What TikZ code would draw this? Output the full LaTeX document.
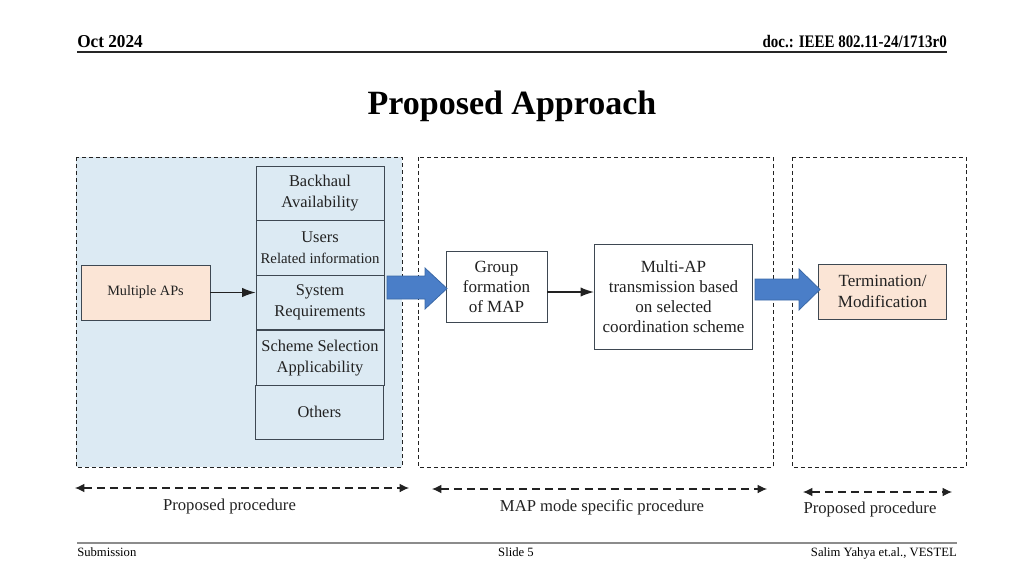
\documentclass[tikz,border=0pt]{standalone}
\usepackage{fontspec}
\setmainfont{Liberation Serif}
\newfontfamily\hdrfont[FakeStretch=0.85]{Liberation Serif}
\newfontfamily\datefont[FakeStretch=0.95]{Liberation Serif}
\usetikzlibrary{arrows.meta}

\definecolor{panelblue}{HTML}{DCEAF3}
\definecolor{peach}{HTML}{FBE5D6}
\definecolor{arrowblue}{HTML}{4A7EC8}
\definecolor{arrowedge}{HTML}{3A68A6}
\definecolor{boxedge}{HTML}{3E4852}
\definecolor{inkgrey}{HTML}{222222}

\def\pu{0.75pt}

\tikzset{
  panel/.style = {draw=inkgrey, line width=0.7pt, dash pattern=on 3pt off 2.2pt},
  colbox/.style = {draw=boxedge, fill=panelblue, line width=0.7pt, inner sep=0pt,
                   minimum width=128*\pu, align=center, text=inkgrey,
                   font=\fontsize{12.3}{15.5}\selectfont},
  procbox/.style = {draw=boxedge, fill=white, line width=0.7pt, inner sep=0pt,
                    align=center, text=inkgrey, font=\fontsize{12.8}{15.2}\selectfont},
  peachbox/.style = {procbox, fill=peach},
  flowarrow/.style = {-{Latex[length=10pt,width=7pt]}, line width=0.8pt, draw=inkgrey},
  span/.style = {{Latex[length=7pt,width=6.5pt]}-{Latex[length=7pt,width=6.5pt]},
                 line width=0.8pt, dash pattern=on 6pt off 3.8pt, draw=inkgrey},
  blockarrow/.style = {fill=arrowblue, draw=arrowedge, line width=0.6pt},
  lbl/.style = {text=inkgrey, font=\fontsize{12.5}{15}\selectfont, anchor=base},
}

\begin{document}
\begin{tikzpicture}[x=0.75pt, y=-0.75pt]
  \useasboundingbox (0,0) rectangle (1024,576);

  % header and footer
  \node[anchor=base west, inner sep=0pt, font=\datefont\bfseries\fontsize{13.6}{16}\selectfont] (date) at (77,47) {Oct 2024};
  \node[anchor=base east, inner sep=0pt, font=\hdrfont\bfseries\fontsize{13.2}{16}\selectfont] (docid) at (947,47) {doc.: IEEE 802.11-24/1713r0};
  \draw [line width=1.3pt, black!85] (77,52) -- (947,52);
  \node[anchor=base, inner sep=0pt, font=\bfseries\fontsize{25.5}{30}\selectfont] (title) at (512,114) {Proposed Approach};

  \draw [line width=1.3pt, black!45] (77,543) -- (957,543);
  \node[anchor=base west, inner sep=0pt, font=\fontsize{9.5}{11}\selectfont] (sub) at (77,556) {Submission};
  \node[anchor=base, inner sep=0pt, font=\fontsize{9.5}{11}\selectfont] (slide) at (516,556) {Slide 5};
  \node[anchor=base east, inner sep=0pt, font=\fontsize{9.5}{11}\selectfont] (authors) at (957,556) {Salim Yahya et.al., VESTEL};

  % the three panels
  \fill [panelblue] (76,157) rectangle (402,467);
  \draw [panel] (76,157) rectangle (402,467);
  \draw [panel] (418,157) rectangle (773,467);
  \draw [panel] (792,157) rectangle (966,467);

  % first panel
  \node[peachbox, minimum width=129*\pu, minimum height=55*\pu,
        font=\fontsize{10.7}{13}\selectfont] (aps) at (145.5,292.5) {Multiple APs};

  \node[colbox, minimum height=54.7*\pu] (backhaul) at (320,193.4) {Backhaul\\Availability};
  \node[colbox, minimum height=54.3*\pu] (users) at (320,247.9)
       {Users\\{\fontsize{11.1}{13}\selectfont Related information}};
  \node[colbox, minimum height=54.3*\pu] (sysreq) at (320,302.2) {System\\Requirements};
  \node[colbox, minimum height=54.6*\pu] (scheme) at (320,358) {Scheme Selection\\Applicability};
  \node[colbox, minimum height=54*\pu] (others) at (319.5,412.3) {Others};

  \draw [flowarrow] (aps.east) -- (aps.east -| sysreq.west);

  % second panel
  \node[procbox, minimum width=101*\pu, minimum height=70.6*\pu] (group) at (496.5,287)
       {Group\\formation\\of MAP};
  \node[procbox, minimum width=158.4*\pu, minimum height=104.7*\pu] (multiap) at (673.5,296.7)
       {Multi-AP\\transmission based\\on selected\\coordination scheme};
  \draw [flowarrow] ([yshift=-5*\pu]group.east) -- ([yshift=-5*\pu]group.east -| multiap.west);

  % third panel
  \node[peachbox, minimum width=128.4*\pu, minimum height=55*\pu] (term) at (882.5,291.5)
       {Termination/\\Modification};

  % block arrows between the panels
  \draw [blockarrow] (387,276) -- (425,276) -- (425,268) -- (447,288.5)
        -- (425,309) -- (425,299) -- (387,299) -- cycle;
  \draw [blockarrow] (755,279) -- (799,279) -- (799,269) -- (820,289.5)
        -- (799,310) -- (799,300) -- (755,300) -- cycle;

  % spans under the panels
  \coordinate (s1a) at (75,488);  \coordinate (s1b) at (409,488);
  \coordinate (s2a) at (432,489); \coordinate (s2b) at (767,489);
  \coordinate (s3a) at (803,492); \coordinate (s3b) at (952,492);
  \draw [span] (s1a) -- (s1b);
  \draw [span] (s2a) -- (s2b);
  \draw [span] (s3a) -- (s3b);
  \node[lbl] (p1) at (229.5,510) {Proposed procedure};
  \node[lbl] (p2) at (602,511) {MAP mode specific procedure};
  \node[lbl] (p3) at (870,513) {Proposed procedure};

\end{tikzpicture}
\end{document}
